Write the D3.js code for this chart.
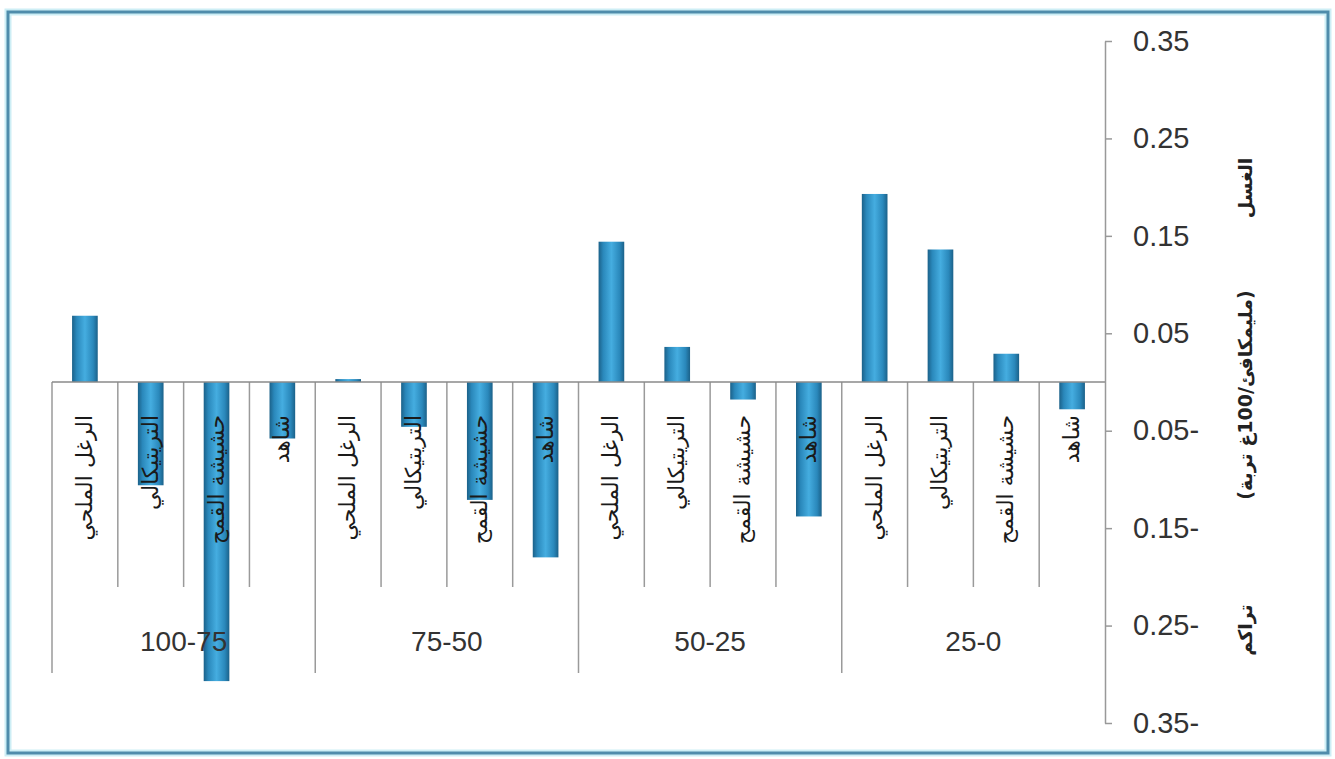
<!DOCTYPE html>
<html><head><meta charset="utf-8">
<script src="https://cdn.jsdelivr.net/npm/d3@7"></script>
<style>
html,body{margin:0;padding:0;background:#fff;}
svg{display:block;}
</style></head>
<body>
<svg id="chart" width="1335" height="759"></svg>
<script>
// ---- data ----
const groups = ["100-75", "75-50", "50-25", "25-0"];
const plants = ["الرغل الملحي", "التريتيكالي", "حشيشة القمح", "شاهد"];
const values_100_75 = [0.068, -0.106, -0.307, -0.058];
const values_75_50 = [0.003, -0.046, -0.121, -0.180];
const values_50_25 = [0.144, 0.036, -0.018, -0.138];
const values_25_0 = [0.193, 0.136, 0.029, -0.028];
const tickValues = [0.35, 0.25, 0.15, 0.05, -0.05, -0.15, -0.25, -0.35];
const axisTitleTop = "الغسل";
const axisTitleMid = "(مليمكافئ/100غ تربة)";
const axisTitleBottom = "تراكم";

(function () {
const seriesByGroup = [values_100_75, values_75_50, values_50_25, values_25_0];
const rows = [];
groups.forEach((g, gi) => plants.forEach((p, pi) => rows.push({group: g, plant: p, key: g + "|" + p, value: seriesByGroup[gi][pi]})));

// ---- layout ----
const svg = d3.select("#chart");
const mLeft = 52, mRight = 1105, mTop = 41, mBottom = 723;
const innerSepBottom = 587, groupSepBottom = 673;

const x = d3.scaleBand().domain(rows.map(d => d.key)).range([mLeft, mRight]).padding(0);
const xg = d3.scaleBand().domain(groups).range([mLeft, mRight]).padding(0);
const y = d3.scaleLinear().domain([-0.35, 0.35]).range([mBottom, mTop]);

// outer frame
svg.append("rect").attr("x", 8).attr("y", 12).attr("width", 1320).attr("height", 741)
  .attr("fill", "none").attr("stroke", "#cdeef5").attr("stroke-width", 7);
svg.append("rect").attr("x", 8).attr("y", 12).attr("width", 1320).attr("height", 741)
  .attr("fill", "none").attr("stroke", "#4f8cab").attr("stroke-width", 3);

// gradient for bars
const defs = svg.append("defs");
const grad = defs.append("linearGradient").attr("id", "barGrad").attr("x1", "0%").attr("x2", "100%").attr("y1", "0%").attr("y2", "0%");
[["0%", "#1b6189"], ["18%", "#2a88bb"], ["50%", "#45ade0"], ["82%", "#2a88bb"], ["100%", "#1b6189"]]
  .forEach(([o, c]) => grad.append("stop").attr("offset", o).attr("stop-color", c));

// separators
const sepColor = "#9a9a9a";
rows.forEach((d, i) => {
  const xs = x(d.key);
  const isGroup = i % plants.length === 0;
  svg.append("line").attr("x1", xs).attr("x2", xs).attr("y1", y(0)).attr("y2", isGroup ? groupSepBottom : innerSepBottom)
    .attr("stroke", sepColor).attr("stroke-width", 1.5);
});

// bars
const barW = x.bandwidth() * 0.39;
svg.append("g").selectAll("rect").data(rows).join("rect")
  .attr("x", d => x(d.key) + (x.bandwidth() - barW) / 2)
  .attr("width", barW)
  .attr("y", d => y(Math.max(0, d.value)))
  .attr("height", d => Math.max(1.5, Math.abs(y(d.value) - y(0))))
  .attr("fill", "url(#barGrad)");

// zero line
svg.append("line").attr("x1", mLeft).attr("x2", mRight).attr("y1", y(0)).attr("y2", y(0))
  .attr("stroke", "#8a8a8a").attr("stroke-width", 1.5);

// category labels (rotated)
svg.append("g").selectAll("text").data(rows).join("text")
  .attr("transform", d => `translate(${x(d.key) + x.bandwidth() / 2 + 7},${y(0) + 33}) rotate(-90)`)
  .attr("direction", "rtl")
  .attr("text-anchor", "start")
  .attr("font-family", "DejaVu Sans, sans-serif")
  .attr("font-size", 22)
  .attr("fill", "#1a1a1a")
  .text(d => d.plant);

// group labels
svg.append("g").selectAll("text").data(groups).join("text")
  .attr("x", d => xg(d) + xg.bandwidth() / 2)
  .attr("y", 651)
  .attr("text-anchor", "middle")
  .attr("font-family", "Liberation Sans, Arial, sans-serif")
  .attr("font-size", 28)
  .attr("fill", "#333")
  .text(d => d);

// y axis on right
const yAxis = d3.axisRight(y).tickValues(tickValues).tickSize(7).tickSizeOuter(0).tickPadding(21)
  .tickFormat(d => d < 0 ? d3.format(".2f")(-d) + "-" : d3.format(".2f")(d));
const ga = svg.append("g").attr("transform", `translate(${mRight},0)`).call(yAxis);
ga.select(".domain").attr("stroke", "#999").attr("stroke-width", 1.5);
ga.selectAll(".tick line").attr("stroke", "#999").attr("stroke-width", 1.5);
ga.selectAll(".tick text").attr("font-family", "Liberation Sans, Arial, sans-serif").attr("font-size", 29).attr("fill", "#333");

// axis title pieces
const tx = 1252;
[[axisTitleTop, 188], [axisTitleMid, 395], [axisTitleBottom, 630]].forEach(([t, cy]) => {
  svg.append("text").attr("transform", `translate(${tx},${cy}) rotate(-90)`)
    .attr("direction", "rtl").attr("text-anchor", "middle")
    .attr("font-family", "DejaVu Sans, sans-serif").attr("font-size", 19).attr("font-weight", "bold")
    .attr("fill", "#222").text(t);
});
})();
</script>
</body></html>
